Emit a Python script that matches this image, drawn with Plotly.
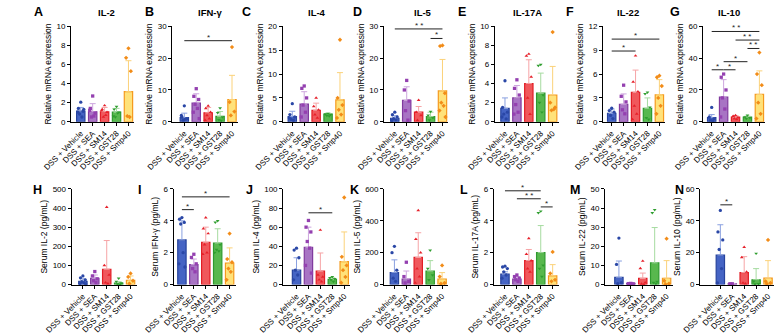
import plotly.graph_objects as go

W, H = 779, 335
GROUPS = ["DSS + Vehicle", "DSS + SEA", "DSS + SM14", "DSS + GST28", "DSS + Smp40"]

# ---------------- Data (mean, mean+SD, individual points) ----------------
# A  IL-2 mRNA
IL2_M_MEAN = [1.12, 1.05, 1.05, 1.0, 3.15]
IL2_M_TOP = [1.5, 1.9, 1.5, 1.4, 6.4]
IL2_M_PTS = [[2.05, 1.4, 1.1, 0.8, 0.5, 1.0, 1.3], [2.7, 1.4, 0.9, 0.5, 0.6, 1.2],
             [1.7, 1.3, 1.0, 0.5, 0.7, 1.2], [1.6, 1.3, 1.0, 0.5, 0.9, 0.6],
             [7.7, 6.7, 5.3, 0.6, 0.5]]
# B  IFN-γ mRNA
IFN_M_MEAN = [1.3, 5.9, 2.8, 1.7, 7.0]
IFN_M_TOP = [2.7, 8.8, 4.5, 3.2, 14.6]
IFN_M_PTS = [[5.0, 1.5, 1.0, 0.5, 0.8, 2.0], [10.4, 8.0, 7.0, 5.5, 4.2, 3.0, 1.0],
             [5.0, 4.2, 3.0, 2.0, 1.0, 0.5], [4.3, 2.8, 1.5, 0.6, 0.4],
             [23.5, 6.2, 3.2, 2.0]]
# C  IL-4 mRNA
IL4_M_MEAN = [1.1, 3.7, 2.4, 1.6, 4.6]
IL4_M_TOP = [2.2, 6.3, 3.9, 1.8, 10.3]
IL4_M_PTS = [[3.8, 1.5, 1.0, 0.5, 0.3, 0.8], [7.5, 7.0, 5.0, 3.5, 2.0, 1.0],
             [5.0, 3.2, 2.5, 1.5, 0.8], [1.7, 1.6, 1.5, 1.3, 1.2],
             [17.2, 5.0, 3.5, 2.5, 1.5, 0.8]]
# D  IL-5 mRNA
IL5_M_MEAN = [1.1, 6.7, 3.0, 1.6, 9.7]
IL5_M_TOP = [1.9, 11.0, 4.8, 3.0, 19.6]
IL5_M_PTS = [[3.0, 2.2, 1.5, 1.0, 0.6, 0.4], [13.0, 10.0, 6.5, 3.5, 0.5],
             [6.8, 3.0, 2.0, 0.5], [3.2, 2.0, 1.2, 0.5],
             [24.0, 23.8, 9.0, 6.0, 5.0, 3.5, 1.5]]
# E  IL-17A mRNA
IL17_M_MEAN = [1.4, 2.5, 4.0, 3.0, 2.8]
IL17_M_TOP = [2.5, 3.8, 6.5, 5.1, 5.8]
IL17_M_PTS = [[4.3, 1.5, 1.0, 0.8, 0.3, 0.5], [4.4, 3.5, 2.8, 1.8, 1.0, 0.8],
              [7.1, 6.9, 4.7, 2.5, 0.8], [6.0, 5.9, 2.8, 2.0, 1.0],
              [9.4, 2.0, 1.5, 1.2, 1.3]]
# F  IL-22 mRNA
IL22_M_MEAN = [1.05, 2.2, 3.7, 1.7, 3.4]
IL22_M_TOP = [1.6, 3.5, 6.5, 3.0, 5.3]
IL22_M_PTS = [[1.7, 1.4, 1.2, 0.8, 0.4], [4.6, 3.2, 2.5, 1.5, 1.0],
              [8.3, 5.0, 3.8, 2.0, 1.0, 0.3], [3.7, 3.5, 1.8, 0.5, 0.3],
              [5.8, 5.6, 4.5, 3.0, 2.0, 1.0]]
# G  IL-10 mRNA
IL10_M_MEAN = [2.6, 15.5, 2.9, 2.9, 17.2]
IL10_M_TOP = [4.5, 26.5, 3.8, 3.5, 32.0]
IL10_M_PTS = [[9.0, 3.0, 2.0, 1.0, 0.5], [30, 28, 20, 15, 8, 3],
              [4.0, 3.5, 2.5, 2.0, 1.5], [4.0, 3.0, 2.5, 2.0],
              [43.5, 30, 23, 12, 5, 2]]
# H  Serum IL-2
IL2_S_MEAN = [17, 33, 80, 8, 22]
IL2_S_TOP = [30, 50, 230, 15, 45]
IL2_S_PTS = [[45, 35, 25, 15, 10, 5, 0], [68, 45, 30, 20, 10],
             [405, 100, 50, 10, 5], [33, 15, 8, 3, 0], [58, 40, 20, 5]]
# I  Serum IFN-γ
IFN_S_MEAN = [2.8, 1.25, 2.65, 2.6, 1.35]
IFN_S_TOP = [4.0, 1.6, 3.6, 3.5, 2.3]
IFN_S_PTS = [[4.2, 4.1, 3.9, 3.8, 2.0, 1.3, 1.1], [1.9, 1.7, 1.3, 1.0, 0.8],
             [4.2, 3.5, 3.2, 2.5, 2.0, 1.9], [4.0, 3.9, 2.5, 2.2, 2.1, 2.0],
             [3.2, 1.6, 1.4, 1.0, 0.8, 0.3]]
# J  Serum IL-4
IL4_S_MEAN = [15, 39, 14, 5.5, 24]
IL4_S_TOP = [28, 60, 33, 7, 55]
IL4_S_PTS = [[38, 36, 28, 15, 10, 5], [67, 60, 55, 45, 38, 20, 12],
             [57, 10, 8, 5, 3], [8, 7, 6, 5, 3], [91, 29, 20, 15, 8, 2]]
# K  Serum IL-5
IL5_S_MEAN = [75, 35, 170, 85, 35]
IL5_S_TOP = [155, 85, 325, 150, 75]
IL5_S_PTS = [[240, 200, 90, 40, 20], [140, 50, 20, 10],
             [465, 285, 200, 100, 50, 10], [215, 100, 60, 30], [120, 50, 10, 5]]
# L  Serum IL-17A
IL17_S_MEAN = [0.65, 0.35, 1.5, 2.0, 0.55]
IL17_S_TOP = [0.8, 0.5, 2.2, 3.7, 1.25]
IL17_S_PTS = [[1.15, 1.1, 1.0, 0.8, 0.6, 0.4], [0.6, 0.5, 0.4, 0.3, 0.2],
              [2.9, 1.9, 1.5, 1.0, 0.8], [4.6, 4.5, 1.2, 1.0, 0.5],
              [2.05, 0.7, 0.3, 0.2]]
# M  Serum IL-22
IL22_S_MEAN = [3.8, 0.6, 3.2, 11.3, 3.3]
IL22_S_TOP = [12.3, 0.8, 6.0, 29.8, 12.5]
IL22_S_PTS = [[24.3, 10.5, 1.0, 0.5], [0.6, 0.5, 0.4],
              [12.3, 8.5, 1.0, 0.3, 0.0], [39, 37.5, 1.5, 1.0, 0.5],
              [24, 2, 0.5, 0.2]]
# N  Serum IL-10
IL10_S_MEAN = [18.5, 0.5, 7.5, 3.0, 4.0]
IL10_S_TOP = [37.5, 0.7, 17.5, 10, 15]
IL10_S_PTS = [[46.5, 33, 28, 22, 10, 1], [0.5, 0.5],
              [23.5, 17, 8, 1, 0.5], [19.5, 2, 0.5, 0.3], [28, 2, 1, 0.5]]

# significance brackets: (group i, group j, y, label)
SIG_B = [(0, 4, 25.5, "*")]
SIG_D = [(0, 4, 29.2, "* *"), (3, 4, 26.2, "*")]
SIG_F = [(0, 4, 10.4, "*"), (0, 2, 8.9, "*")]
SIG_G = [(0, 4, 56.8, "* *"), (2, 4, 51.4, "* *"), (3, 4, 46.1, "* *"),
         (1, 3, 37.8, "*"), (0, 1, 32.7, "*"), (1, 2, 32.7, "*")]
SIG_I = [(0, 4, 5.5, "*"), (0, 1, 4.7, "*")]
SIG_J = [(1, 3, 75, "*")]
SIG_L = [(0, 3, 5.88, "*"), (1, 3, 5.38, "* *"), (3, 4, 4.87, "*")]
SIG_N = [(0, 1, 50, "*")]

# --------------- Panel definitions ---------------
PANELS = [
    ("A", "IL-2", "Relative mRNA expression", 10, 2, IL2_M_MEAN, IL2_M_TOP, IL2_M_PTS, [], 42.7, 52.8, 0),
    ("B", "IFN-γ", "Relative mRNA expression", 30, 10, IFN_M_MEAN, IFN_M_TOP, IFN_M_PTS, SIG_B, 148, 160.5, 0),
    ("C", "IL-4", "Relative mRNA expression", 20, 5, IL4_M_MEAN, IL4_M_TOP, IL4_M_PTS, [], 262.7, 272.8, 0),
    ("D", "IL-5", "Relative mRNA expression", 30, 10, IL5_M_MEAN, IL5_M_TOP, IL5_M_PTS, SIG_D, 368, 379.4, 0),
    ("E", "IL-17A", "Relative mRNA expression", 10, 2, IL17_M_MEAN, IL17_M_TOP, IL17_M_PTS, [], 483.3, 494, 0),
    ("F", "IL-22", "Relative mRNA expression", 12, 3, IL22_M_MEAN, IL22_M_TOP, IL22_M_PTS, SIG_F, 596, 605, 0),
    ("G", "IL-10", "Relative mRNA expression", 60, 20, IL10_M_MEAN, IL10_M_TOP, IL10_M_PTS, SIG_G, 700, 709, 0),
    ("H", "", "Serum IL-2 (pg/mL)", 500, 100, IL2_S_MEAN, IL2_S_TOP, IL2_S_PTS, [], 43.3, 55, 1),
    ("I", "", "Serum IFN-γ (pg/mL)", 6, 2, IFN_S_MEAN, IFN_S_TOP, IFN_S_PTS, SIG_I, 149.3, 158, 1),
    ("J", "", "Serum IL-4 (pg/mL)", 100, 20, IL4_S_MEAN, IL4_S_TOP, IL4_S_PTS, SIG_J, 263.3, 277.2, 1),
    ("K", "", "Serum IL-5 (pg/mL)", 600, 200, IL5_S_MEAN, IL5_S_TOP, IL5_S_PTS, [], 368.3, 379, 1),
    ("L", "", "Serum IL-17A (pg/mL)", 6, 2, IL17_S_MEAN, IL17_S_TOP, IL17_S_PTS, SIG_L, 482.3, 494, 1),
    ("M", "", "Serum IL-22 (pg/mL)", 50, 10, IL22_S_MEAN, IL22_S_TOP, IL22_S_PTS, [], 598, 612.5, 1),
    ("N", "", "Serum IL-10 (pg/mL)", 60, 20, IL10_S_MEAN, IL10_S_TOP, IL10_S_PTS, SIG_N, 697, 718, 1),
]
LETTER_X = [9, 124, 225, 341, 449, 562, 671, 8, 114, 228, 337, 451, 567, 675]
TITLE_X = [80, 187, 298, 409, 517.5, 622, 727]

FILL = ["#4564c4", "#a874c4", "#f0585c", "#58b84e", "#ffe27a"]
EDGE = ["#27439c", "#803a9e", "#e21d25", "#2e9a2e", "#f59a1e"]
ERRC = ["#8aa0e0", "#cda6de", "#f6a4a6", "#a6dba0", "#fbd27a"]
PTC = ["#2a47a6", "#9440b0", "#e6202a", "#2f9e2f", "#f28c18"]
SYMS = ["circle", "square", "triangle-up", "triangle-down", "diamond"]
JIT = [0.0, -0.2, 0.2, -0.1, 0.1, -0.25, 0.25]

SP = 12.4  # px per category unit
REND = 4.5
ROW_Y = [(1 - 121 / H, 1 - 23 / H), (1 - 288.3 / H, 1 - 190 / H)]
FONT = "Arial, Liberation Sans, sans-serif"

fig = go.Figure()
layout = {}
annotations = []
shapes = []

for k, (let, title, ytitle, ymax, dt, mean, top, pts, sig, ax_px, c0_px, row) in enumerate(PANELS):
    n = k + 1
    xa = "x" if n == 1 else f"x{n}"
    ya = "y" if n == 1 else f"y{n}"
    r0 = -(c0_px - ax_px) / SP
    x0 = ax_px / W
    x1 = (ax_px + (REND - r0) * SP) / W
    xs = list(range(len(GROUPS)))
    fig.add_trace(go.Bar(
        x=xs, y=mean, width=0.7, xaxis=xa, yaxis=ya,
        marker=dict(color=FILL, line=dict(color=EDGE, width=1.2)),
        showlegend=False, hoverinfo="skip"))
    for g in range(len(GROUPS)):
        fig.add_trace(go.Scatter(
            x=[g], y=[mean[g]], mode="markers", xaxis=xa, yaxis=ya,
            marker=dict(size=0.1, color="rgba(0,0,0,0)"),
            error_y=dict(type="data", symmetric=False, array=[top[g] - mean[g]],
                         arrayminus=[0], color=ERRC[g], thickness=1, width=3),
            showlegend=False, hoverinfo="skip"))
        px = [g + JIT[i % len(JIT)] for i in range(len(pts[g]))]
        fig.add_trace(go.Scatter(
            x=px, y=pts[g], mode="markers", xaxis=xa, yaxis=ya,
            marker=dict(size=3.3, color=PTC[g], symbol=SYMS[g]),
            cliponaxis=False, showlegend=False, hoverinfo="skip"))
    layout[f"xaxis{'' if n == 1 else n}"] = dict(
        domain=[x0, x1], range=[r0, REND], anchor=ya,
        tickmode="array", tickvals=xs, ticktext=GROUPS, tickangle=-45,
        showline=True, linecolor="black", linewidth=1, ticks="outside",
        ticklen=3, tickwidth=1, tickcolor="black", showgrid=False, zeroline=False,
        tickfont=dict(size=8, color="#000", family=FONT), fixedrange=True)
    layout[f"yaxis{'' if n == 1 else n}"] = dict(
        domain=list(ROW_Y[row]), range=[0, ymax], anchor=xa, dtick=dt,
        showline=True, linecolor="black", linewidth=1, ticks="outside",
        ticklen=3, tickwidth=1, tickcolor="black", showgrid=False, zeroline=False,
        tickfont=dict(size=8, color="#000", family=FONT),
        title=dict(text=ytitle, font=dict(size=8.5, color="#000", family=FONT), standoff=3),
        fixedrange=True)
    for (i, j, yv, lab) in sig:
        shapes.append(dict(type="line", xref=xa, yref=ya, x0=i, x1=j, y0=yv, y1=yv,
                           line=dict(color="#222", width=1)))
        annotations.append(dict(xref=xa, yref=ya, x=(i + j) / 2, y=yv, text=lab,
                                showarrow=False, yanchor="bottom", yshift=-3,
                                font=dict(size=8, color="#222", family=FONT)))
    ly = 8 if row == 0 else 191
    annotations.append(dict(xref="paper", yref="paper", x=LETTER_X[k] / W, y=1 - ly / H,
                            text=f"<b>{let}</b>", showarrow=False, xanchor="center",
                            yanchor="middle", font=dict(size=12.5, color="#000", family=FONT)))
    if title:
        annotations.append(dict(xref="paper", yref="paper", x=TITLE_X[k] / W, y=1 - 8.5 / H,
                                text=f"<b>{title}</b>", showarrow=False, xanchor="center",
                                yanchor="middle", font=dict(size=9.5, color="#000", family=FONT)))

fig.update_layout(width=W, height=H, margin=dict(l=0, r=0, t=0, b=0),
                  paper_bgcolor="white", plot_bgcolor="white", bargap=0.3,
                  annotations=annotations, shapes=shapes, **layout)
fig.write_html("out.html")
